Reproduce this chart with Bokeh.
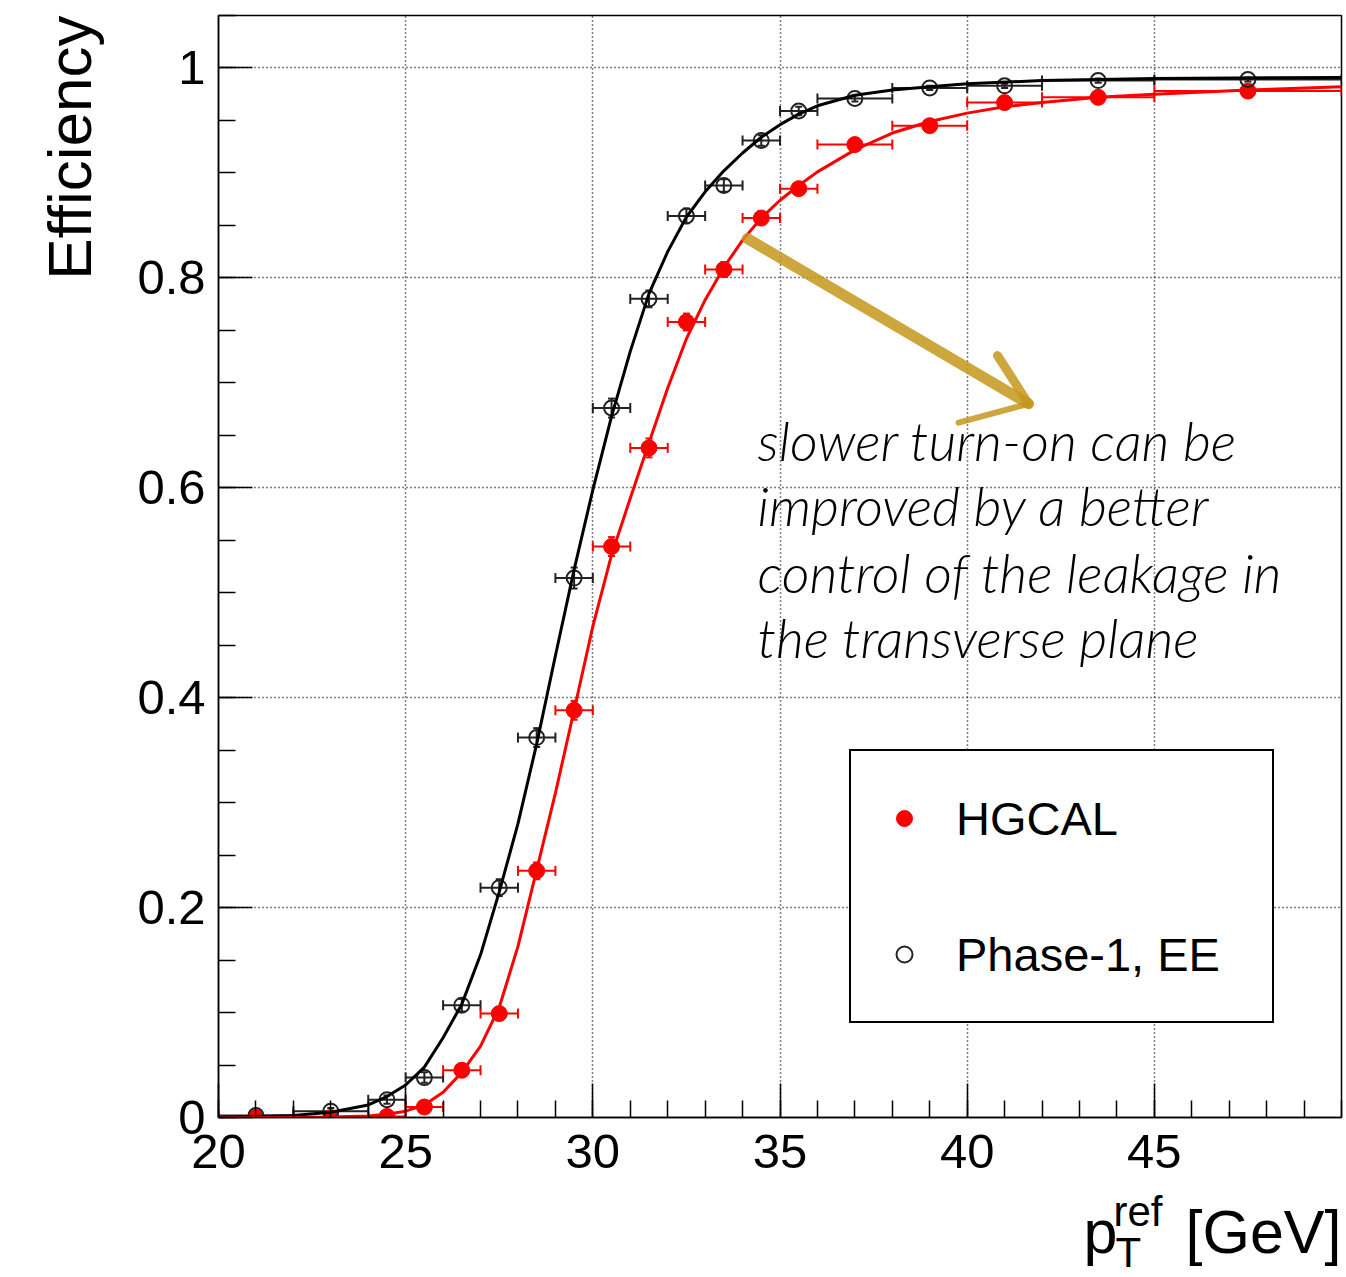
from bokeh.plotting import figure
from bokeh.layouts import column
from bokeh.models import (ColumnDataSource, Whisker, TeeHead, FixedTicker, Title,
                          Legend, LegendItem, Range1d)
from bokeh.core.properties import value
from bokeh.embed import file_html
from bokeh.resources import INLINE

# ---------------- data ----------------
pt_x = [21, 23, 24.5, 25.5, 26.5, 27.5, 28.5, 29.5, 30.5, 31.5, 32.5, 33.5, 34.5, 35.5, 37, 39, 41, 43.5, 47.5]
bin_lo = [20, 22, 24, 25, 26, 27, 28, 29, 30, 31, 32, 33, 34, 35, 36, 38, 40, 42, 45]
bin_hi = [22, 24, 25, 26, 27, 28, 29, 30, 31, 32, 33, 34, 35, 36, 38, 40, 42, 45, 50]

hgcal_eff = [0.000, 0.000, 0.001, 0.010, 0.045, 0.099, 0.235, 0.388, 0.544, 0.638, 0.758, 0.808,
             0.857, 0.885, 0.927, 0.945, 0.967, 0.972, 0.978]
hgcal_err = [0.001, 0.001, 0.002, 0.003, 0.005, 0.006, 0.008, 0.009, 0.009, 0.009, 0.008, 0.007,
             0.006, 0.005, 0.004, 0.003, 0.003, 0.002, 0.002]

phase1_eff = [0.002, 0.006, 0.017, 0.038, 0.107, 0.219, 0.362, 0.514, 0.676, 0.780, 0.859, 0.888,
              0.931, 0.959, 0.971, 0.981, 0.983, 0.988, 0.989]
phase1_err = [0.002, 0.003, 0.004, 0.005, 0.006, 0.008, 0.009, 0.010, 0.009, 0.008, 0.007, 0.006,
              0.005, 0.004, 0.003, 0.002, 0.002, 0.002, 0.002]

# fitted turn-on curves
phase1_fit_x = [20, 22, 23, 24, 24.5, 25, 25.5, 26, 26.5, 27, 27.5, 28, 28.5, 29, 29.5, 30, 30.5,
                31, 31.5, 32, 32.5, 33, 33.5, 34, 34.5, 35, 35.5, 36, 37, 38, 39, 40, 42, 45, 50]
phase1_fit_y = [0.000, 0.002, 0.005, 0.012, 0.020, 0.031, 0.048, 0.076, 0.108, 0.155, 0.215, 0.280,
                0.356, 0.440, 0.522, 0.598, 0.668, 0.730, 0.785, 0.825, 0.858, 0.882, 0.902, 0.919,
                0.934, 0.946, 0.956, 0.964, 0.974, 0.979, 0.982, 0.985, 0.988, 0.990, 0.991]
hgcal_fit_x = [20, 22, 23, 24, 24.5, 25, 25.5, 26, 26.5, 27, 27.5, 28, 28.5, 29, 29.5, 30, 30.5,
               31, 31.5, 32, 32.5, 33, 33.5, 34, 34.5, 35, 35.5, 36, 37, 38, 39, 40, 41, 42, 43.5,
               45, 47.5, 50]
hgcal_fit_y = [0.000, 0.000, 0.0005, 0.0015, 0.003, 0.006, 0.012, 0.024, 0.043, 0.068, 0.105, 0.163,
               0.236, 0.309, 0.388, 0.468, 0.536, 0.590, 0.643, 0.695, 0.742, 0.779, 0.810, 0.836,
               0.857, 0.874, 0.888, 0.901, 0.922, 0.938, 0.949, 0.957, 0.963, 0.967, 0.972, 0.975,
               0.979, 0.982]

x_major = [20, 25, 30, 35, 40, 45]
x_minor = list(range(20, 51))
y_major = [0, 0.2, 0.4, 0.6, 0.8, 1.0]
y_minor = [round(0.05 * i, 2) for i in range(22)]

note_lines = ["slower turn-on can be", "improved by a better",
              "control of the leakage in", "the transverse plane"]
note_y = [0.645, 0.583, 0.519, 0.457]
note_x = [34.40] * 4

# hand-drawn arrow (annotation, data coordinates)
arrow_shaft_x = [34.13, 41.64]
arrow_shaft_y = [0.8375, 0.680]
arrow_arm1_x = [40.81, 41.64]
arrow_arm1_y = [0.726, 0.680]
arrow_arm2_x = [39.77, 41.64]
arrow_arm2_y = [0.662, 0.680]

# x-axis title pieces: p_T^ref [GeV]  (strip coordinates in pixels)
xtitle_text = ["p", "ref", "T", "[GeV]"]
xtitle_x = [1083, 1113, 1115, 1341]
xtitle_y = [44, 24, 65, 44]
xtitle_size = ["61px", "42px", "42px", "61px"]
xtitle_align = ["left", "left", "left", "right"]

RED = "#ff0000"
BLK = "#222222"
GOLD = "#c4961c"
FONT = "Liberation Sans"

# ---------------- main figure ----------------
p = figure(width=1346, height=1187, x_range=Range1d(20, 50), y_range=Range1d(0, 1.05),
           output_backend="svg", toolbar_location=None,
           min_border_left=218, min_border_right=5, min_border_top=15, min_border_bottom=70)
p.background_fill_color = "white"
p.border_fill_color = "white"
p.outline_line_color = "black"
p.outline_line_width = 1.5

xt = FixedTicker(ticks=x_major, minor_ticks=x_minor)
yt = FixedTicker(ticks=y_major, minor_ticks=y_minor)
p.xaxis.ticker = xt
p.yaxis.ticker = yt
p.xgrid.ticker = xt
p.ygrid.ticker = yt
p.yaxis.major_label_overrides = {0: "0", 1: "1"}

for ax in (p.xaxis[0], p.yaxis[0]):
    ax.major_tick_in = 34
    ax.major_tick_out = 0
    ax.minor_tick_in = 17
    ax.minor_tick_out = 0
    ax.axis_line_width = 1.5
    ax.axis_line_color = "black"
    ax.major_tick_line_width = 1.5
    ax.minor_tick_line_width = 1.5
    ax.major_tick_line_color = "black"
    ax.minor_tick_line_color = "black"
    ax.major_label_text_font = FONT
    ax.major_label_text_font_size = "49px"
    ax.major_label_text_color = "black"
p.xaxis.major_label_standoff = 17
p.yaxis.major_label_standoff = 13

for g in (p.xgrid[0], p.ygrid[0]):
    g.grid_line_color = "black"
    g.grid_line_dash = "1 3"
    g.grid_line_width = 1.5

p.add_layout(Title(text="Efficiency", align="right", text_font=FONT, text_font_size="62px",
                   text_font_style="normal", text_color="black", standoff=62), "left")

# data sources
src_h = ColumnDataSource(dict(x=pt_x, y=hgcal_eff, xlo=bin_lo, xhi=bin_hi,
                              ylo=[a - b for a, b in zip(hgcal_eff, hgcal_err)],
                              yhi=[a + b for a, b in zip(hgcal_eff, hgcal_err)]))
src_p = ColumnDataSource(dict(x=pt_x, y=phase1_eff, xlo=bin_lo, xhi=bin_hi,
                              ylo=[a - b for a, b in zip(phase1_eff, phase1_err)],
                              yhi=[a + b for a, b in zip(phase1_eff, phase1_err)]))

for src, col in ((src_p, BLK), (src_h, RED)):
    p.add_layout(Whisker(source=src, base="y", lower="xlo", upper="xhi", dimension="width",
                         line_color=col, line_width=2,
                         lower_head=TeeHead(size=10, line_color=col, line_width=2),
                         upper_head=TeeHead(size=10, line_color=col, line_width=2)))
    p.add_layout(Whisker(source=src, base="x", lower="ylo", upper="yhi", dimension="height",
                         line_color=col, line_width=2,
                         lower_head=TeeHead(size=7, line_color=col, line_width=2),
                         upper_head=TeeHead(size=7, line_color=col, line_width=2)))

r_h = p.scatter("x", "y", source=src_h, marker="circle", size=16, fill_color=RED,
                line_color=RED, line_width=1)
r_p = p.scatter("x", "y", source=src_p, marker="circle", size=15, fill_color=None,
                line_color=BLK, line_width=2)

p.line(phase1_fit_x, phase1_fit_y, line_color="black", line_width=3)
p.line(hgcal_fit_x, hgcal_fit_y, line_color=RED, line_width=3)

# annotation text
note_src = ColumnDataSource(dict(x=note_x, y=note_y, t=note_lines))
p.text("x", "y", text="t", source=note_src, text_font=value("Lato Light"), text_font_style="italic",
       text_font_size="54px", text_color="black", text_baseline="alphabetic", text_align="left")

# arrow
p.line(arrow_shaft_x, arrow_shaft_y, line_color=GOLD, line_width=11, line_alpha=0.85, line_cap="round")
p.line(arrow_arm1_x, arrow_arm1_y, line_color=GOLD, line_width=9, line_alpha=0.85, line_cap="round")
p.line(arrow_arm2_x, arrow_arm2_y, line_color=GOLD, line_width=6, line_alpha=0.85, line_cap="round")

# legend
legend = Legend(items=[LegendItem(label="HGCAL", renderers=[r_h]),
                       LegendItem(label="Phase-1, EE", renderers=[r_p])],
                location=(631, 94), padding=33, spacing=68, glyph_width=40, glyph_height=68,
                label_height=68, label_width=283, label_standoff=32,
                label_text_font=FONT, label_text_font_size="47px", label_text_color="black",
                label_text_baseline="middle",
                border_line_color="black", border_line_width=2, border_line_alpha=1.0,
                background_fill_color="white", background_fill_alpha=1.0, margin=0)
p.add_layout(legend)

# ---------------- x-axis title strip (frame aligned with the main plot) ----------------
p2 = figure(width=1346, height=90, x_range=Range1d(218, 1341), y_range=Range1d(90, 0),
            output_backend="svg", toolbar_location=None, x_axis_type=None, y_axis_type=None,
            min_border_left=218, min_border_right=5, min_border_top=0, min_border_bottom=0)
p2.outline_line_color = None
p2.xgrid.visible = False
p2.ygrid.visible = False
p2.background_fill_color = "white"
p2.border_fill_color = "white"
t_src = ColumnDataSource(dict(x=xtitle_x, y=xtitle_y, t=xtitle_text, s=xtitle_size, a=xtitle_align))
p2.text("x", "y", text="t", source=t_src, text_font=value(FONT), text_font_size="s",
        text_align="a", text_baseline="alphabetic", text_color="black")

open("out.html", "w").write(file_html(column(p, p2), INLINE))
